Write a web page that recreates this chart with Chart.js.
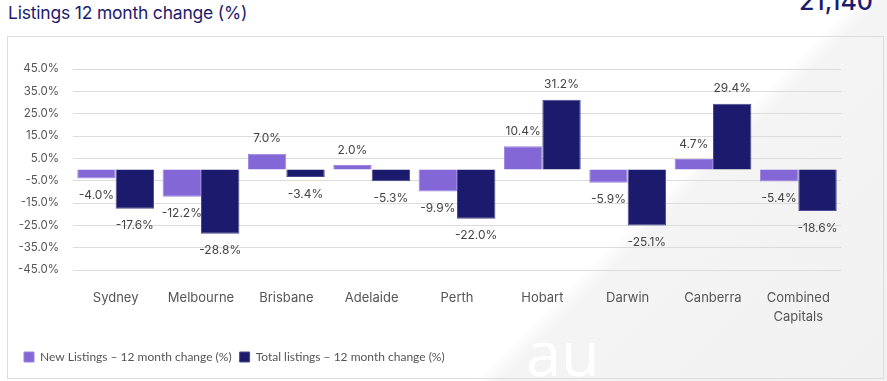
<!DOCTYPE html>
<html>
<head>
<meta charset="utf-8">
<script src="https://cdn.jsdelivr.net/npm/chart.js@4/dist/chart.umd.min.js"></script>
<style>
  html, body { margin:0; padding:0; }
  body { width:887px; height:381px; overflow:hidden; position:relative;
    background: linear-gradient(135deg, #ffffff 0%, #ffffff 67.5%, #f4f4f4 69.5%, #f1f1f1 100%);
    font-family: Inter, "Open Sans", sans-serif; }
  #title { position:absolute; left:8px; top:2px; font-size:17.5px; color:#1d1c6c; font-family: Inter, sans-serif; letter-spacing:-0.2px; }
  #big { position:absolute; right:14px; top:-14px; font-size:25px; color:#1d1c6c; font-weight:500; font-family: Inter, sans-serif; }
  #box { position:absolute; left:7px; top:36px; width:875px; height:341px; border:1px solid #dcdcdc; }
  #wm { position:absolute; left:526px; top:309px; font-size:63px; line-height:normal; color:rgba(255,255,255,0.95); font-family: "Open Sans", sans-serif; z-index:5; }
</style>
</head>
<body>
<div id="title">Listings 12 month change (%)</div>
<div id="big">21,140</div>
<div id="box"><canvas id="c"></canvas></div>
<div id="wm">au</div>
<script>
const categories = ["Sydney","Melbourne","Brisbane","Adelaide","Perth","Hobart","Darwin","Canberra",["Combined","Capitals"]];
const newListings = [-4.0, -12.2, 7.0, 2.0, -9.9, 10.4, -5.9, 4.7, -5.4];
const totalListings = [-17.6, -28.8, -3.4, -5.3, -22.0, 31.2, -25.1, 29.4, -18.6];
const seriesNames = ["New Listings \u2013 12 month change (%)", "Total listings \u2013 12 month change (%)"];

const labelPlugin = {
  id: 'valueLabels',
  afterDatasetsDraw(chart) {
    const ctx = chart.ctx;
    ctx.save();
    ctx.font = '12px Inter, sans-serif';
    ctx.fillStyle = '#444';
    ctx.textAlign = 'center';
    ctx.textBaseline = 'middle';
    chart.data.datasets.forEach((ds, di) => {
      chart.getDatasetMeta(di).data.forEach((bar, i) => {
        const v = ds.data[i];
        const y = v >= 0 ? bar.y - 15 : bar.y + 17;
        ctx.fillText(v.toFixed(1) + '%', bar.x, y);
      });
    });
    ctx.restore();
  }
};

new Chart(document.getElementById('c'), {
  type: 'bar',
  data: {
    labels: categories,
    datasets: [
      { label: seriesNames[0], data: newListings, backgroundColor: '#8467d7', borderColor: '#9a86e0', borderWidth: 1 },
      { label: seriesNames[1], data: totalListings, backgroundColor: '#1b1a6d', borderColor: '#4b4a8e', borderWidth: 1 }
    ]
  },
  options: {
    responsive: true,
    maintainAspectRatio: false,
    animation: false,
    layout: { padding: { top: 32, right: 42, left: 8, bottom: 5 } },
    datasets: { bar: { categoryPercentage: 0.9, barPercentage: 1.0 } },
    scales: {
      y: {
        min: -45, max: 45,
        afterFit(axis) { axis.width = 57; },
        ticks: { stepSize: 10, padding: 14, color: '#555', font: { size: 11.5, family: 'Inter, sans-serif' },
          callback: v => v.toFixed(1) + '%' },
        grid: { color: '#dcdcdc', drawTicks: false },
        border: { display: false }
      },
      x: {
        afterFit(axis) { axis.height = axis.height + 6; },
        ticks: { padding: 10, color: '#555', font: { size: 13, family: 'Inter, sans-serif', lineHeight: 1.5 } },
        grid: { display: false },
        border: { display: false }
      }
    },
    plugins: {
      legend: {
        position: 'bottom', align: 'start',
        labels: { boxWidth: 10, boxHeight: 10, color: '#555', padding: 8, font: { size: 12, family: 'Lato, sans-serif' } }
      },
      tooltip: { enabled: false }
    }
  },
  plugins: [labelPlugin]
});
</script>
</body>
</html>
